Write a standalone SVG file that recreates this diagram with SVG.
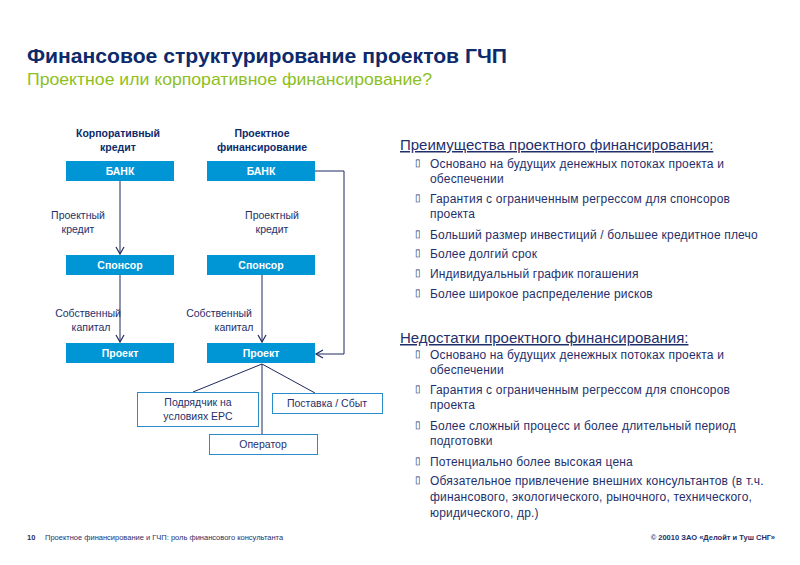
<svg xmlns="http://www.w3.org/2000/svg" width="800" height="565" viewBox="0 0 800 565">
<defs>
<marker id="arr" markerWidth="10" markerHeight="10" refX="8" refY="5" orient="auto" markerUnits="userSpaceOnUse">
<path d="M1,1 L8,5 L1,9" fill="none" stroke="#1F2A5E" stroke-width="1.2"/>
</marker>
<style>
text{font-family:"Liberation Sans",Arial,sans-serif;fill:#1F2F6B}
.title{font-size:21px;font-weight:bold;fill:#0D2A6B}
.sub{font-size:17px;fill:#8DBF22}
.hdr{font-size:10.5px;font-weight:bold;text-anchor:middle;fill:#0D2A6B}
.box{fill:#0096D6}
.bt{font-size:10.5px;font-weight:bold;fill:#fff;text-anchor:middle}
.ob{fill:#fff;stroke:#2A8CC8;stroke-width:1}
.ot{font-size:10.5px;text-anchor:middle;fill:#1F2F6B}
.lbl{font-size:10.5px;text-anchor:middle;fill:#1F2F6B}
.ln{fill:none;stroke:#1F2A5E;stroke-width:1}
.h2{font-size:15px;text-decoration:underline;fill:#1F2F6B}
.li{font-size:12px;letter-spacing:0.18px;fill:#1F2F6B}
.bul{font-size:10px;fill:#1F2F6B}
.ft{font-size:7.5px;fill:#1F2F6B}
</style>
</defs>
<rect width="800" height="565" fill="#fff"/>
<text class="title" x="27" y="63" textLength="480" lengthAdjust="spacingAndGlyphs">Финансовое структурирование проектов ГЧП</text>
<text class="sub" x="27" y="85" textLength="405" lengthAdjust="spacingAndGlyphs">Проектное или корпоративное финансирование?</text>

<text class="hdr" x="118" y="137">Корпоративный</text>
<text class="hdr" x="118" y="151">кредит</text>
<text class="hdr" x="262" y="137">Проектное</text>
<text class="hdr" x="262" y="151">финансирование</text>

<g id="connectors">
<line class="ln" x1="120" y1="181" x2="120" y2="254" marker-end="url(#arr)"/>
<line class="ln" x1="120" y1="275" x2="120" y2="342" marker-end="url(#arr)"/>
<line class="ln" x1="262" y1="275" x2="262" y2="342" marker-end="url(#arr)"/>
<polyline class="ln" points="315,171 344,171 344,354 316,354" marker-end="url(#arr)"/>
<line class="ln" x1="262" y1="364" x2="193" y2="392"/>
<line class="ln" x1="262" y1="364" x2="315" y2="393"/>
<line class="ln" x1="262" y1="364" x2="262" y2="434"/>
<text class="lbl" x="78" y="219">Проектный</text>
<text class="lbl" x="78" y="233">кредит</text>
<text class="lbl" x="88" y="317">Собственный</text>
<text class="lbl" x="91" y="331">капитал</text>
<text class="lbl" x="272" y="219">Проектный</text>
<text class="lbl" x="272" y="233">кредит</text>
<text class="lbl" x="219" y="317">Собственный</text>
<text class="lbl" x="234" y="331">капитал</text>
</g>

<g id="bank1"><rect class="box" x="66" y="161" width="108" height="20"/><text class="bt" x="120" y="175">БАНК</text></g>
<g id="sponsor1"><rect class="box" x="66" y="255" width="108" height="20"/><text class="bt" x="120" y="269">Спонсор</text></g>
<g id="project1"><rect class="box" x="66" y="343" width="108" height="20"/><text class="bt" x="120" y="357">Проект</text></g>
<g id="bank2"><rect class="box" x="207" y="161" width="108" height="20"/><text class="bt" x="261" y="175">БАНК</text></g>
<g id="sponsor2"><rect class="box" x="207" y="255" width="108" height="20"/><text class="bt" x="261" y="269">Спонсор</text></g>
<g id="project2"><rect class="box" x="207" y="343" width="108" height="20"/><text class="bt" x="261" y="357">Проект</text></g>
<g id="contractor"><rect class="ob" x="137.5" y="392.5" width="121" height="34"/><text class="ot" x="198" y="406">Подрядчик на</text><text class="ot" x="198" y="420">условиях EPC</text></g>
<g id="supply"><rect class="ob" x="272.5" y="393.5" width="110" height="20"/><text class="ot" x="327" y="407">Поставка / Сбыт</text></g>
<g id="operator"><rect class="ob" x="209.5" y="434.5" width="108" height="20"/><text class="ot" x="263" y="448">Оператор</text></g>

<g id="advantages">
<text class="h2" x="400" y="150">Преимущества проектного финансирования:</text>
<text class="bul" x="415" y="166">▯</text><text class="li" x="430" y="168">Основано на будущих денежных потоках проекта и</text>
<text class="li" x="430" y="183">обеспечении</text>
<text class="bul" x="415" y="201">▯</text><text class="li" x="430" y="203">Гарантия с ограниченным регрессом для спонсоров</text>
<text class="li" x="430" y="218">проекта</text>
<text class="bul" x="415" y="237">▯</text><text class="li" x="430" y="239">Больший размер инвестиций / большее кредитное плечо</text>
<text class="bul" x="415" y="256">▯</text><text class="li" x="430" y="258">Более долгий срок</text>
<text class="bul" x="415" y="276">▯</text><text class="li" x="430" y="278">Индивидуальный график погашения</text>
<text class="bul" x="415" y="296">▯</text><text class="li" x="430" y="298">Более широкое распределение рисков</text>
</g>
<g id="disadvantages">
<text class="h2" x="400" y="343">Недостатки проектного финансирования:</text>
<text class="bul" x="415" y="357">▯</text><text class="li" x="430" y="359">Основано на будущих денежных потоках проекта и</text>
<text class="li" x="430" y="374">обеспечении</text>
<text class="bul" x="415" y="392">▯</text><text class="li" x="430" y="394">Гарантия с ограниченным регрессом для спонсоров</text>
<text class="li" x="430" y="409">проекта</text>
<text class="bul" x="415" y="428">▯</text><text class="li" x="430" y="430">Более сложный процесс и более длительный период</text>
<text class="li" x="430" y="445">подготовки</text>
<text class="bul" x="415" y="464">▯</text><text class="li" x="430" y="466">Потенциально более высокая цена</text>
<text class="bul" x="415" y="483">▯</text><text class="li" x="430" y="485">Обязательное привлечение внешних консультантов  (в т.ч.</text>
<text class="li" x="430" y="501">финансового, экологического, рыночного, технического,</text>
<text class="li" x="430" y="517">юридического, др.)</text>
</g>

<text class="ft" x="27" y="540" font-weight="bold">10</text>
<text class="ft" x="45" y="540">Проектное финансирование и ГЧП: роль финансового консультанта</text>
<text class="ft" x="775" y="540" text-anchor="end" font-weight="bold">© 20010 ЗАО «Делойт и Туш СНГ»</text>
</svg>
